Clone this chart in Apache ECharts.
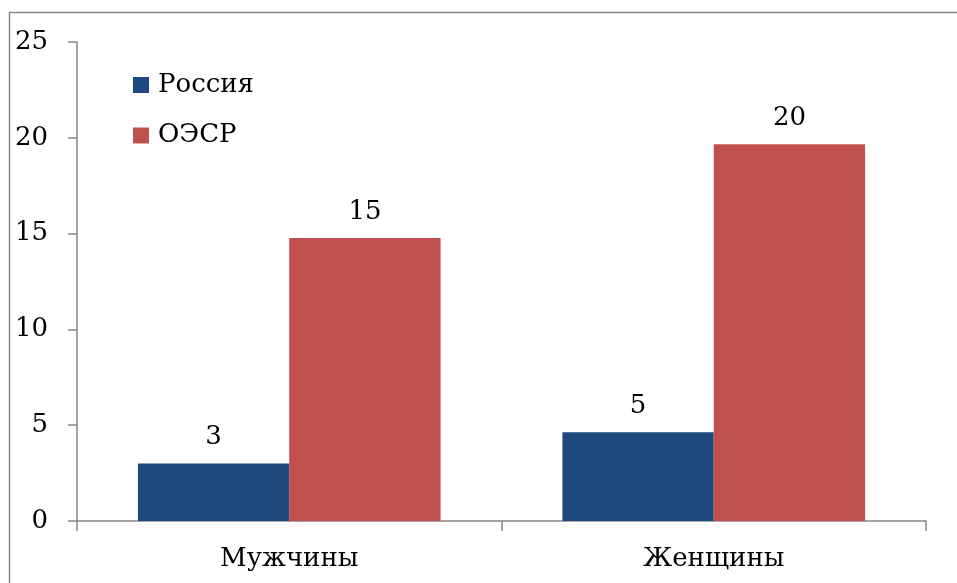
<!DOCTYPE html>
<html>
<head>
<meta charset="utf-8">
<script src="https://cdn.jsdelivr.net/npm/echarts@6/dist/echarts.min.js"></script>
<style>
html,body{margin:0;padding:0;background:#fff;}
#chart{width:957px;height:583px;}
</style>
</head>
<body>
<div id="chart"></div>
<script>
var categories = ['Мужчины', 'Женщины'];
var seriesNames = ['Россия', 'ОЭСР'];
var russiaValues = [3.0, 4.63];
var oecdValues = [14.77, 19.66];
var yTicks = [0, 5, 10, 15, 20, 25];

var FONT = 'DejaVu Serif';
var FS = 26;
var chart = echarts.init(document.getElementById('chart'), null, {renderer: 'canvas'});
var labelCfg = {
  show: true, position: 'top', distance: 13,
  color: '#000', fontFamily: FONT, fontSize: FS,
  formatter: function (p) { return Math.round(p.value); }
};
chart.setOption({
  animation: false,
  backgroundColor: '#fff',
  graphic: [{
    type: 'polyline', z: -1,
    shape: {points: [[9.5, 600], [9.5, 12.5], [970, 12.5]]},
    style: {fill: 'none', stroke: '#868686', lineWidth: 1.5}
  }],
  grid: {left: 77, right: 31, top: 42, bottom: 62, containLabel: false},
  legend: {
    orient: 'vertical', left: 128, top: 65,
    itemWidth: 16, itemHeight: 16, itemGap: 20.5, icon: 'rect',
    data: seriesNames,
    textStyle: {fontFamily: FONT, fontSize: FS, color: '#000', lineHeight: 30, padding: [0, 0, 0, 4]}
  },
  xAxis: {
    type: 'category', data: categories,
    axisLine: {lineStyle: {color: '#868686', width: 1.5}},
    axisTick: {show: true, length: 10, lineStyle: {color: '#868686', width: 1.5}},
    axisLabel: {color: '#000', fontFamily: FONT, fontSize: FS, margin: 25}
  },
  yAxis: {
    type: 'value', min: 0, max: 25, interval: 5,
    axisLine: {show: true, lineStyle: {color: '#868686', width: 1.5}},
    axisTick: {show: true, length: 9, lineStyle: {color: '#868686', width: 1.5}},
    splitLine: {show: false},
    axisLabel: {color: '#000', fontFamily: FONT, fontSize: FS, margin: 29,
      formatter: function (v) { return yTicks.indexOf(v) >= 0 ? String(v) : ''; }}
  },
  series: [
    {name: seriesNames[0], type: 'bar', data: russiaValues, barGap: 0, barCategoryGap: '28.7%',
     itemStyle: {color: '#1F497D'}, label: labelCfg},
    {name: seriesNames[1], type: 'bar', data: oecdValues, barGap: 0, barCategoryGap: '28.7%',
     itemStyle: {color: '#C0504D'}, label: labelCfg}
  ]
});
</script>
</body>
</html>
